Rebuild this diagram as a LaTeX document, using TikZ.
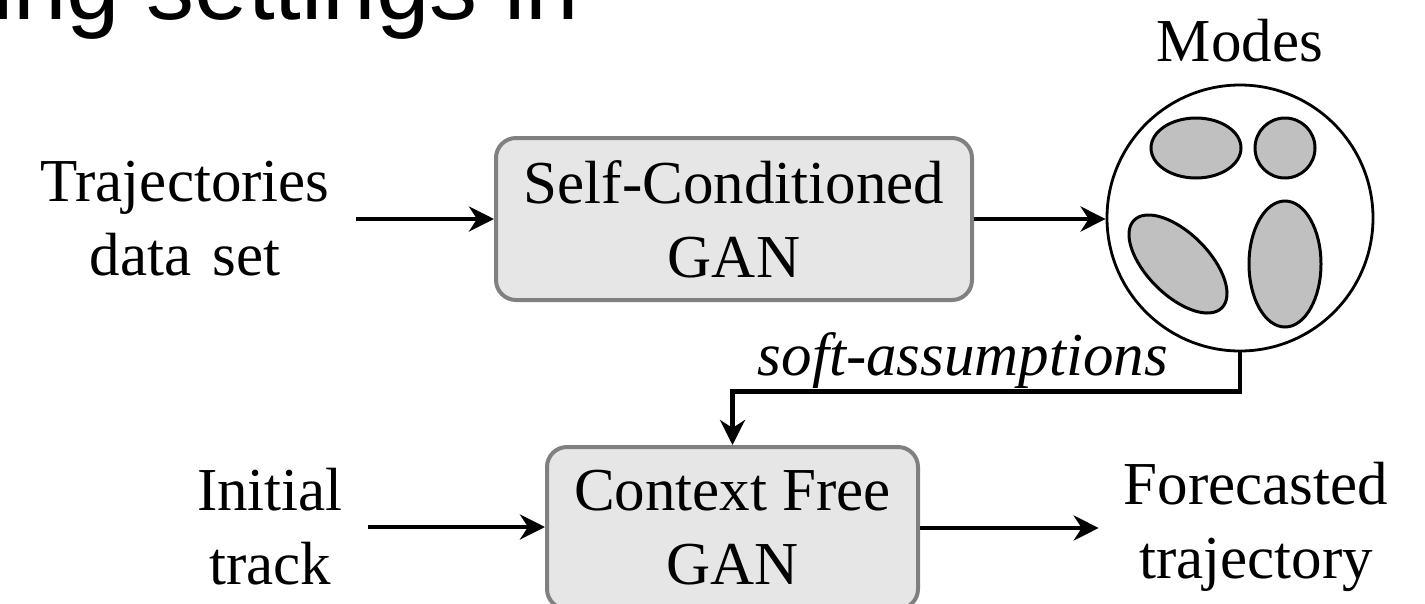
\documentclass[tikz,border=0pt]{standalone}
\usepackage{fontspec}
\setmainfont{Liberation Serif}
\newfontfamily\slidefont{Liberation Sans}
\usetikzlibrary{arrows.meta}
\definecolor{boxfill}{RGB}{230,230,230}
\definecolor{boxedge}{RGB}{128,128,128}
\definecolor{modefill}{RGB}{192,192,192}
\begin{document}
\begin{tikzpicture}[x=1pt,y=-1pt,
  lbl/.style={font=\fontsize{61}{74}\selectfont, align=center, inner sep=0pt},
  gan/.style={lbl, draw=boxedge, line width=4pt, fill=boxfill,
    rounded corners=20pt, minimum height=162pt},
  arr/.style={line width=4.5pt, -{Stealth[length=25pt,width=25pt,inset=8pt]}},
  blob/.style={draw=black, line width=3pt, fill=modefill}]
\useasboundingbox (0,0) rectangle (1425,603);
\clip (0,0) rectangle (1425,603);

% slide heading running above the figure
\node[font=\slidefont\fontsize{96}{112}\selectfont, anchor=base west, inner sep=0pt]
  (heading) at (-8,19) {ing settings in};

% first stage
\node[lbl, inner xsep=26pt] (traj) at (185,219) {Trajectories\\data\hspace{0.35em}set};
\node[gan, minimum width=476pt] (scgan) at (734,219) {Self-Conditioned\\GAN};

% learned modes
\node[circle, draw=black, line width=2.8pt, minimum size=266pt, inner sep=0pt]
  (modes) at (1240,218) {};
\node[lbl, anchor=base] (modeslbl) at (1240,61) {Modes};
\draw[blob] (1196,148) ellipse [x radius=45pt, y radius=30pt];
\draw[blob] (1285,148) ellipse [x radius=30pt, y radius=30pt];
\draw[blob, rotate around={-45:(1178,264)}] (1178,264) ellipse [x radius=62pt, y radius=31pt];
\draw[blob] (1285,264) ellipse [x radius=36pt, y radius=63pt];

% second stage
\node[lbl, inner xsep=25pt] (init) at (270,527) {Initial\\track};
\node[gan, minimum width=371pt] (cfgan) at (732.5,528) {Context Free\\GAN};
\node[lbl, inner xsep=25pt] (fore) at (1256,527) {Forecasted\\trajectory};
\node[lbl, font=\fontsize{61}{74}\selectfont\itshape, anchor=base] (soft) at (963,375) {soft-assumptions};

% connectors
\draw[arr] (traj.east) -- (traj.east -| scgan.west);
\draw[arr] (scgan.east) -- (scgan.east -| modes.west);
\draw[arr] (modes.south) -- ++(0,39) -| (cfgan.north);
\draw[arr] (init.east) -- (init.east -| cfgan.west);
\draw[arr] (cfgan.east) -- (cfgan.east -| fore.west);
\end{tikzpicture}
\end{document}
